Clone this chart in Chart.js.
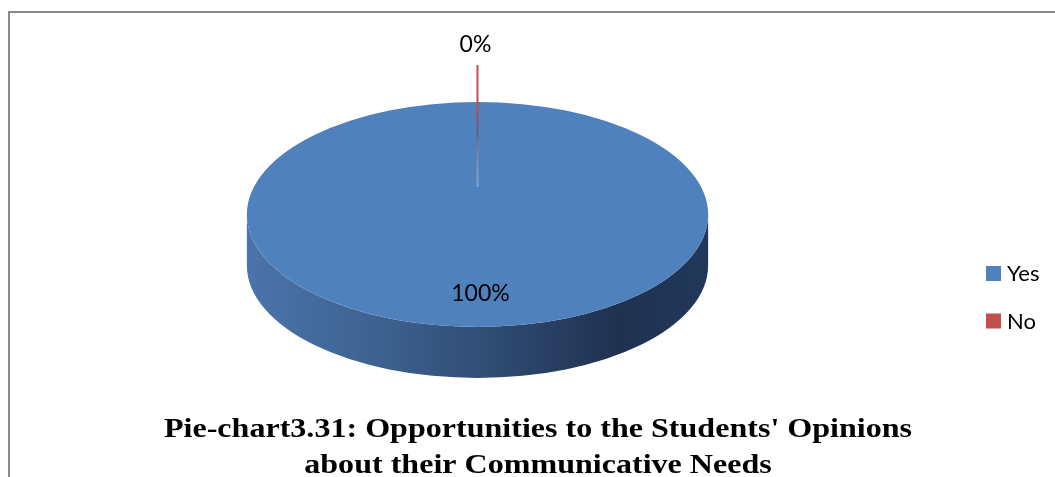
<!DOCTYPE html>
<html>
<head>
<meta charset="utf-8">
<title>Pie-chart3.31</title>
<script src="https://cdn.jsdelivr.net/npm/chart.js@4.4.1/dist/chart.umd.min.js"></script>
<style>
  html, body { margin: 0; padding: 0; background: #fff; }
  #wrap { position: relative; width: 1055px; height: 477px; overflow: hidden; }
  #frame {
    position: absolute; left: 8px; top: 11px; right: -10px; bottom: -10px;
    border-left: 2px solid #8a8a8a; border-top: 2px solid #8a8a8a;
  }
  canvas { position: absolute; left: 0; top: 0; }
</style>
</head>
<body>
<div id="wrap">
  <div id="frame"></div>
  <canvas id="chart" width="1055" height="477"></canvas>
</div>
<script>
const categories = ["Yes", "No"];
const responses = [100, 0];
const sliceColors = ["#4F81BD", "#C0504D"];
const titleLines = [
  "Pie-chart3.31: Opportunities to the Students' Opinions",
  "about their Communicative Needs"
];

// the circle is drawn by Chart.js and stretched sideways into an ellipse
const stretchX = 2.05;
const depth = 51;
const labelFont = "23px Lato, 'Open Sans', sans-serif";

const total = responses.reduce((a, b) => a + b, 0);
const percentText = responses.map(v => Math.round(v / total * 100) + "%");

function frontRanges(a0, a1) {
  // parts of [a0, a1] that face the viewer (0..PI, repeated every 2PI)
  const out = [];
  for (let k = -1; k <= 1; k++) {
    const lo = Math.max(a0, k * 2 * Math.PI);
    const hi = Math.min(a1, k * 2 * Math.PI + Math.PI);
    if (hi > lo) out.push([lo, hi]);
  }
  return out;
}

const pie3d = {
  id: "pie3d",
  beforeDatasetsDraw(chart) {
    const ctx = chart.ctx;
    const arcs = chart.getDatasetMeta(0).data;
    ctx.save();
    arcs.forEach((arc) => {
      const { x, y, startAngle, endAngle, outerRadius } = arc.getProps(
        ["x", "y", "startAngle", "endAngle", "outerRadius"], true);
      const rx = outerRadius * stretchX, ry = outerRadius;
      const grad = ctx.createLinearGradient(x - rx, 0, x + rx, 0);
      grad.addColorStop(0, "#4a74ab");
      grad.addColorStop(0.25, "#3f6494");
      grad.addColorStop(0.55, "#2e4a71");
      grad.addColorStop(0.8, "#1f3250");
      grad.addColorStop(1, "#22375a");
      frontRanges(startAngle, endAngle).forEach(([a0, a1]) => {
        ctx.beginPath();
        ctx.ellipse(x, y, rx, ry, 0, a0, a1, false);
        ctx.lineTo(x + rx * Math.cos(a1), y + ry * Math.sin(a1) + depth);
        ctx.ellipse(x, y + depth, rx, ry, 0, a1, a0, true);
        ctx.closePath();
        ctx.fillStyle = grad;
        ctx.fill();
      });
    });
    ctx.restore();

    const c = arcs[0];
    ctx.save();
    ctx.translate(c.x, c.y);
    ctx.scale(stretchX, 1);
    ctx.translate(-c.x, -c.y);
  },
  afterDatasetsDraw(chart) {
    const ctx = chart.ctx;
    ctx.restore();
    const arcs = chart.getDatasetMeta(0).data;

    arcs.forEach((arc, i) => {
      const { x, y, startAngle, endAngle, outerRadius } = arc.getProps(
        ["x", "y", "startAngle", "endAngle", "outerRadius"], true);
      const rx = outerRadius * stretchX, ry = outerRadius;
      const mid = (startAngle + endAngle) / 2;
      ctx.font = labelFont;
      ctx.fillStyle = "#000";
      ctx.textAlign = "center";
      ctx.textBaseline = "middle";
      if (endAngle - startAngle < 0.01) {
        // empty slice: thin wall line and label outside the rim
        const ex = x + rx * Math.cos(mid), ey = y + ry * Math.sin(mid);
        const g = ctx.createLinearGradient(0, ey - 37, 0, ey + 85);
        g.addColorStop(0, sliceColors[i]);
        g.addColorStop(0.3, sliceColors[i]);
        g.addColorStop(0.55, "#6f5878");
        g.addColorStop(1, "rgba(170,195,230,0.5)");
        ctx.strokeStyle = g;
        ctx.lineWidth = 2;
        ctx.beginPath();
        ctx.moveTo(ex, ey - 37);
        ctx.lineTo(ex, ey + 85);
        ctx.stroke();
        ctx.fillText(percentText[i], ex - 2, ey - 57);
      } else {
        ctx.fillText(percentText[i],
          x + rx * 0.7 * Math.cos(mid) + 3,
          y + ry * 0.7 * Math.sin(mid));
      }
    });

    // legend
    ctx.textAlign = "left";
    ctx.textBaseline = "alphabetic";
    ctx.font = "22px Lato, 'Open Sans', sans-serif";
    categories.forEach((name, i) => {
      const top = 266 + i * 47.5;
      ctx.fillStyle = sliceColors[i];
      ctx.fillRect(986, top, 15, 15);
      ctx.fillStyle = "#000";
      ctx.fillText(name, 1007, top + 15);
    });

    // caption, set a little wide
    ctx.save();
    ctx.translate(538, 0);
    ctx.scale(1.145, 1);
    ctx.textAlign = "center";
    ctx.font = "bold 28px 'Liberation Serif', 'Times New Roman', serif";
    titleLines.forEach((line, i) => {
      ctx.fillText(line, 0, 437 + i * 36);
    });
    ctx.restore();
  }
};

new Chart(document.getElementById("chart"), {
  type: "pie",
  data: {
    labels: categories,
    datasets: [{
      data: responses,
      backgroundColor: sliceColors,
      borderWidth: 0,
      hoverOffset: 0
    }]
  },
  options: {
    responsive: false,
    animation: false,
    events: [],
    layout: { padding: { top: 102, bottom: 150, left: 365, right: 465 } },
    plugins: {
      legend: { display: false },
      tooltip: { enabled: false },
      title: { display: false }
    }
  },
  plugins: [pie3d]
});
</script>
</body>
</html>
